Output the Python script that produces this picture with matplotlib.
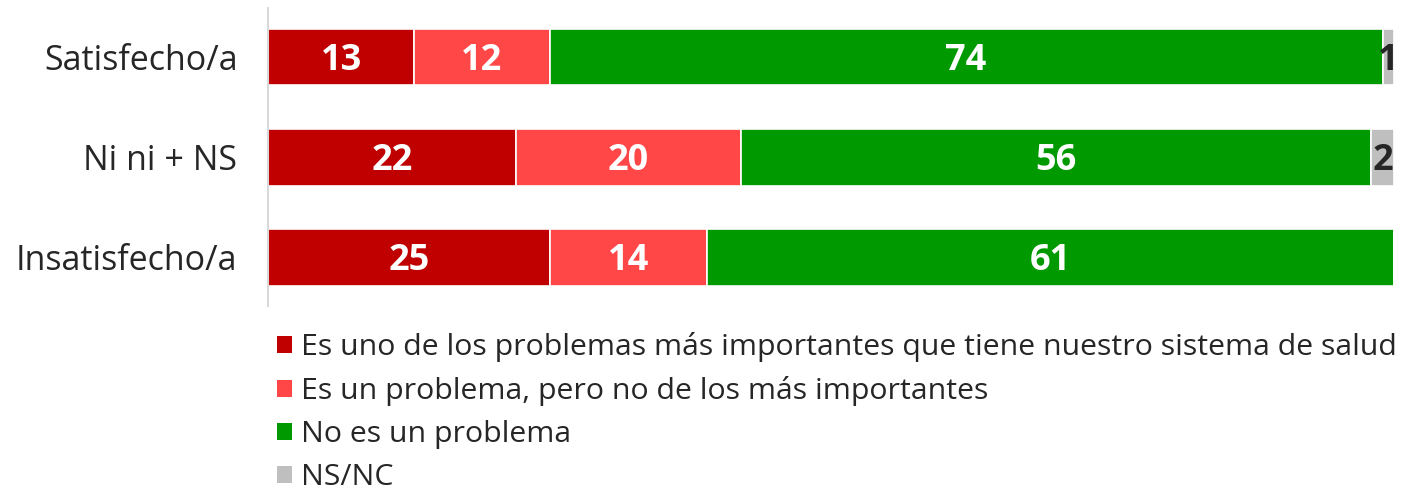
import matplotlib.pyplot as plt
from matplotlib.patches import Patch

plt.rcParams['font.family'] = ['Open Sans', 'DejaVu Sans']

categories = ["Satisfecho/a", "Ni ni + NS", "Insatisfecho/a"]
series_names = ["Es uno de los problemas más importantes que tiene nuestro sistema de salud",
                "Es un problema, pero no de los más importantes",
                "No es un problema",
                "NS/NC"]
values = [
    [13, 22, 25],
    [12, 20, 14],
    [74, 56, 61],
    [1, 2, 0],
]
colors = ["#C00000", "#FF4747", "#009900", "#BFBFBF"]
label_colors = ["white", "white", "white", "#262626"]

fig = plt.figure(figsize=(14.01, 4.88), dpi=100)
ax = fig.add_axes([268 / 1401, 1 - 306 / 488, (1394 - 268) / 1401, 298 / 488])

ypos = list(range(len(categories)))
left = [0] * len(categories)
for vals, col, lcol in zip(values, colors, label_colors):
    bars = ax.barh(ypos, vals, left=left, height=0.57, color=col,
                   edgecolor="white", linewidth=1.2)
    for b, v in zip(bars, vals):
        if v > 0:
            ax.text(b.get_x() + b.get_width() / 2, b.get_y() + b.get_height() / 2,
                    str(v), ha="center", va="center_baseline", color=lcol,
                    fontsize=26, fontweight="bold")
    left = [l + v for l, v in zip(left, vals)]

ax.set_xlim(0, 100)
ax.set_ylim(2.49, -0.49)
ax.set_yticks(ypos)
ax.set_yticklabels(categories, fontsize=24.5, color="#262626")
ax.tick_params(axis="y", length=0, pad=22)
ax.set_xticks([])
for s in ["top", "right", "bottom"]:
    ax.spines[s].set_visible(False)
ax.spines["left"].set_color("#D9D9D9")
ax.spines["left"].set_linewidth(1.5)

handles = [Patch(facecolor=c, edgecolor="none") for c in colors]
fig.legend(handles, series_names, loc="upper left",
           bbox_to_anchor=(265 / 1401, 1 - 320 / 488), frameon=False,
           fontsize=21.8, handlelength=0.5, handleheight=0.5,
           handletextpad=0.28, labelspacing=0.46, borderaxespad=0,
           labelcolor="#262626")

fig.savefig("out.png", dpi=100)
